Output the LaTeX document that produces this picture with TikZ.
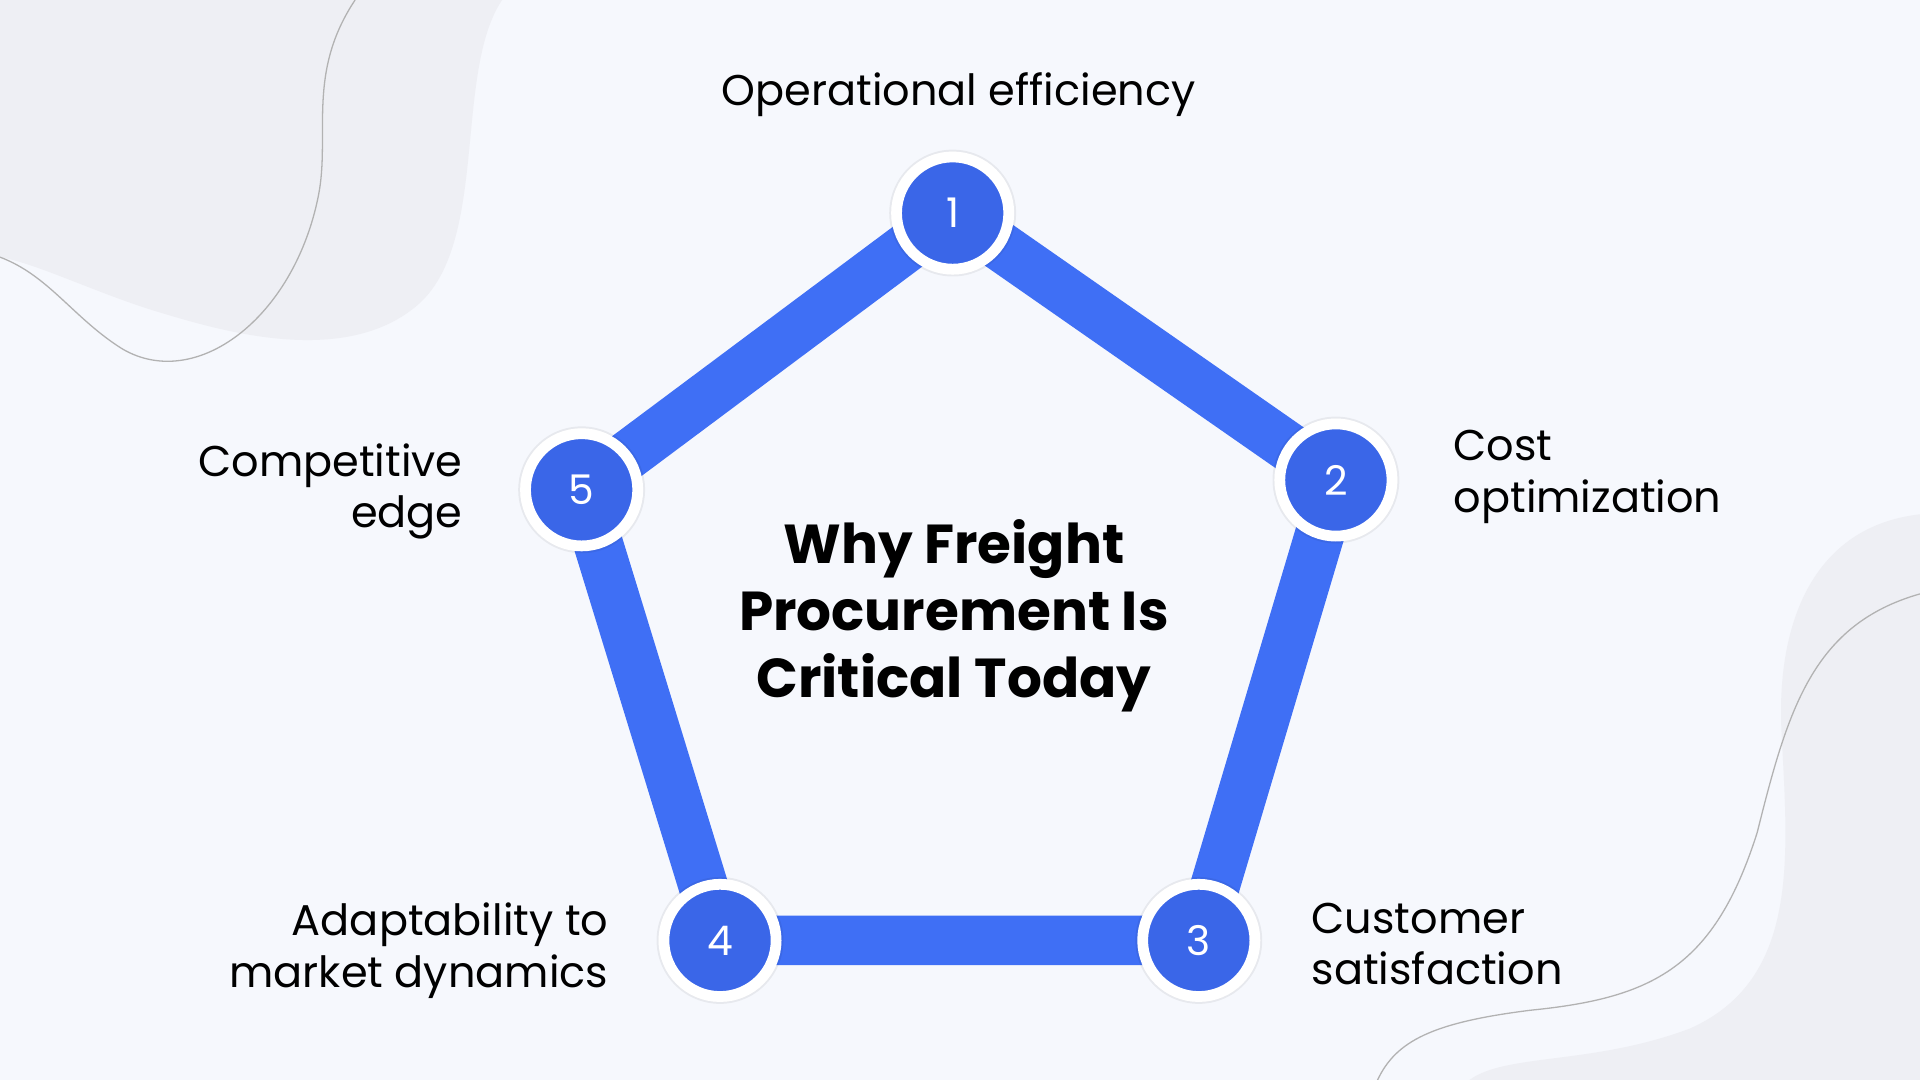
\documentclass[tikz,border=0pt]{standalone}
\usepackage{fontspec}
\setmainfont{Poppins}
\definecolor{bg}{HTML}{F6F8FD}
\definecolor{blob}{HTML}{EEEFF4}
\definecolor{pblue}{HTML}{3F6FF5}
\definecolor{cblue}{HTML}{3A66E8}
\begin{document}
\begin{tikzpicture}[x=0.02cm,y=-0.02cm,
  edge/.style={draw=pblue,line width=23pt},
  numnode/.style={circle,fill=cblue,draw=white,line width=5pt,minimum size=92*0.567pt,text=white,font=\fontsize{19}{22}\selectfont},
  lbl/.style={font=\fontsize{20}{24}\selectfont,text=black}]
\fill[bg] (0,0) rectangle (1568,882);
\useasboundingbox (0,0) rectangle (1568,882);
% top-left blob
\fill[blob] (0,0) -- (410,0) .. controls (370,60) and (400,200) .. (340,250) .. controls (280,300) and (180,270) .. (130,255) .. controls (80,240) and (30,215) .. (0,210) -- cycle;
\draw[gray!60,line width=0.6pt] (290,0) .. controls (250,60) and (270,110) .. (260,160) .. controls (240,260) and (160,320) .. (100,285) .. controls (60,260) and (40,225) .. (0,210);
% bottom-right blob
\fill[blob] (1568,420) .. controls (1480,430) and (1450,510) .. (1455,600) .. controls (1460,700) and (1470,800) .. (1380,840) .. controls (1300,870) and (1230,860) .. (1200,882) -- (1568,882) -- cycle;
\draw[gray!60,line width=0.6pt] (1568,485) .. controls (1480,510) and (1460,580) .. (1435,680) .. controls (1400,790) and (1350,815) .. (1250,825) .. controls (1170,835) and (1140,850) .. (1125,882);
% nodes
\node[numnode] (n1) at (778,174) {1};
\node[numnode] (n2) at (1091,392) {2};
\node[numnode] (n3) at (979,768) {3};
\node[numnode] (n4) at (588,768) {4};
\node[numnode] (n5) at (475,400) {5};
\path[edge] (n1.center) -- (n2.center) -- (n3.center) -- (n4.center) -- (n5.center) -- cycle;
\foreach \n/\t in {n1/1,n2/2,n3/3,n4/4,n5/5}{
  \fill[black,opacity=0.06] (\n.center) circle (52*0.567pt);
  \node[numnode] at (\n.center) {\t};}
% labels
\node[lbl,anchor=base] (l1) at (783,86) {Operational efficiency};
\node[lbl,anchor=north west,align=left] (l2) at (1181,345) {Cost\\optimization};
\node[lbl,anchor=north west,align=left] (l3) at (1065,731) {Customer\\satisfaction};
\node[lbl,anchor=north east,align=right] (l4) at (503,731) {Adaptability to\\market dynamics};
\node[lbl,anchor=north east,align=right] (l5) at (384,356) {Competitive\\edge};
\node[font=\fontsize{25.5}{31}\selectfont\bfseries,align=center] (title) at (779,503) {Why Freight\\Procurement Is\\Critical Today};
\end{tikzpicture}
\end{document}
